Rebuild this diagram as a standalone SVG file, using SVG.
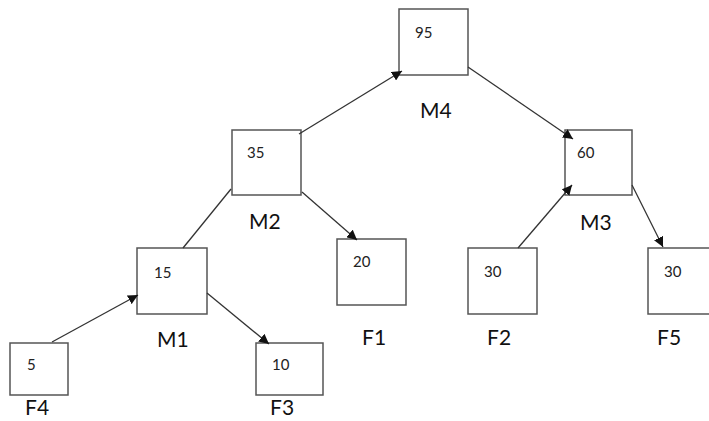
<svg xmlns="http://www.w3.org/2000/svg" width="709" height="421" viewBox="0 0 709 421">
<defs>
<style>
.box{fill:#fff;stroke:#555;stroke-width:1.5}
.num{font-family:Lato,"Open Sans",sans-serif;font-size:15px;fill:#222}
.lbl{font-family:Lato,"Open Sans",sans-serif;font-size:21px;fill:#111}
.edge{stroke:#333;stroke-width:1.3;fill:none}
</style>
<marker id="arr" viewBox="0 0 10 10" refX="10" refY="5" markerWidth="10" markerHeight="10" markerUnits="userSpaceOnUse" orient="auto">
<path d="M0,0 L10,5 L0,10 z" fill="#111"/>
</marker>
</defs>
<rect width="709" height="421" fill="#fff"/>
<g id="M4"><rect class="box" x="399" y="9" width="69" height="66"/><text class="num" x="415" y="38">95</text><text class="lbl" x="420" y="118">M4</text></g>
<g id="M2"><rect class="box" x="232" y="130" width="69" height="65"/><text class="num" x="247" y="158">35</text><text class="lbl" x="249" y="229">M2</text></g>
<g id="M3"><rect class="box" x="565" y="130" width="67" height="65"/><text class="num" x="577" y="158">60</text><text class="lbl" x="580" y="230">M3</text></g>
<g id="M1"><rect class="box" x="137" y="248" width="70" height="66"/><text class="num" x="154" y="278">15</text><text class="lbl" x="157" y="347">M1</text></g>
<g id="F1"><rect class="box" x="337" y="239" width="69" height="66"/><text class="num" x="353" y="267">20</text><text class="lbl" x="362" y="345">F1</text></g>
<g id="F2"><rect class="box" x="468" y="248" width="69" height="66"/><text class="num" x="484" y="277">30</text><text class="lbl" x="487" y="345">F2</text></g>
<g id="F5"><rect class="box" x="648" y="248" width="66" height="66"/><text class="num" x="664" y="277">30</text><text class="lbl" x="657" y="345">F5</text></g>
<g id="F4"><rect class="box" x="10" y="343" width="58" height="52"/><text class="num" x="27" y="370">5</text><text class="lbl" x="25" y="415">F4</text></g>
<g id="F3"><rect class="box" x="256" y="343" width="67" height="52"/><text class="num" x="272" y="370">10</text><text class="lbl" x="270" y="415">F3</text></g>
<g id="connectors">
<line class="edge" x1="299" y1="134" x2="402" y2="71" marker-end="url(#arr)"/>
<line class="edge" x1="468" y1="67" x2="573" y2="139" marker-end="url(#arr)"/>
<line class="edge" x1="518" y1="248" x2="572" y2="185" marker-end="url(#arr)"/>
<line class="edge" x1="632" y1="185" x2="663" y2="247" marker-end="url(#arr)"/>
<line class="edge" x1="302" y1="192" x2="357" y2="240" marker-end="url(#arr)"/>
<line class="edge" x1="183" y1="248" x2="231" y2="189"/>
<line class="edge" x1="52" y1="342" x2="138" y2="295" marker-end="url(#arr)"/>
<line class="edge" x1="207" y1="293" x2="269" y2="344" marker-end="url(#arr)"/>
</g>
</svg>
